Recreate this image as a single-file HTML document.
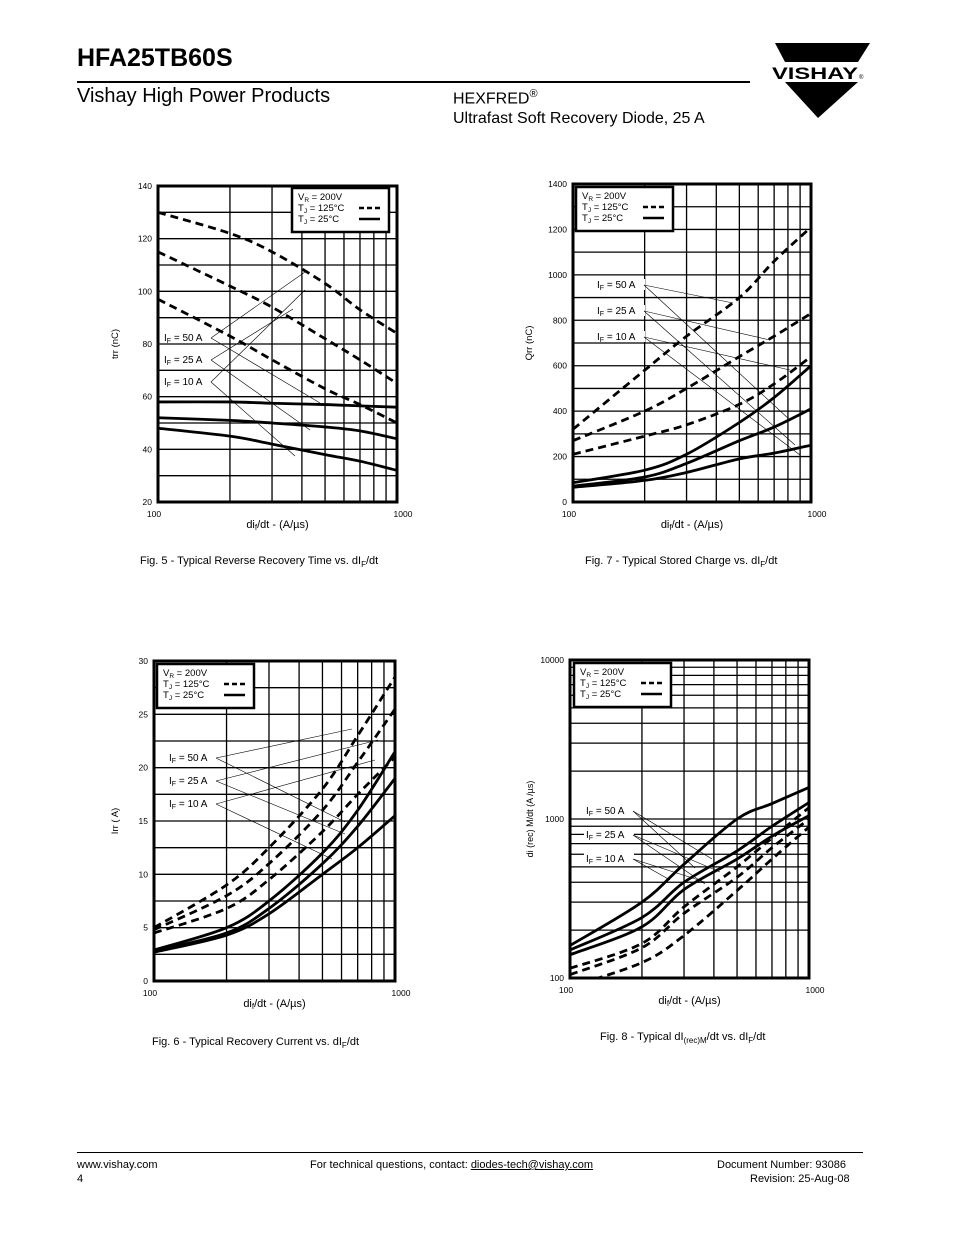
<!DOCTYPE html>
<html><head><meta charset="utf-8">
<style>
body{margin:0;background:#fff;font-family:"Liberation Sans",Arial,sans-serif;}
#page{position:relative;width:954px;height:1235px;overflow:hidden;background:#fff;}
.t{position:absolute;white-space:nowrap;color:#000;}
svg text{font-family:"Liberation Sans",Arial,sans-serif;}
</style></head>
<body>
<div id="page">
<div class="t" style="left:77px;top:44px;font-size:25px;font-weight:bold;">HFA25TB60S</div>
<div style="position:absolute;left:77px;top:81px;width:673px;height:2px;background:#000;"></div>
<div class="t" style="left:77px;top:85px;font-size:20px;">Vishay High Power Products</div>
<div class="t" style="left:453px;top:88px;font-size:16px;">HEXFRED<sup style="font-size:11px">®</sup></div>
<div class="t" style="left:453px;top:110px;font-size:16px;">Ultrafast Soft Recovery Diode, 25 A</div>
<svg style="position:absolute;left:760px;top:38px" width="115" height="85">
<polygon points="15,5 110,5 98,24 25,24" fill="#000"/>
<text x="12" y="41" font-size="17" font-weight="bold" textLength="86" lengthAdjust="spacingAndGlyphs">VISHAY</text>
<text x="99" y="41" font-size="6">®</text>
<polygon points="25,44 98,44 58,80" fill="#000"/>
</svg>

<svg id="charts" style="position:absolute;left:0;top:0" width="954" height="1235"></svg>

<div class="t" style="left:140px;top:555px;font-size:11px;">Fig. 5 - Typical Reverse Recovery Time vs. dI<sub style="font-size:8px">F</sub>/dt</div>
<div class="t" style="left:585px;top:555px;font-size:11px;">Fig. 7 - Typical Stored Charge vs. dI<sub style="font-size:8px">F</sub>/dt</div>
<div class="t" style="left:152px;top:1036px;font-size:11px;">Fig. 6 - Typical Recovery Current vs. dI<sub style="font-size:8px">F</sub>/dt</div>
<div class="t" style="left:600px;top:1031px;font-size:11px;">Fig. 8 - Typical dI<sub style="font-size:8px">(rec)M</sub>/dt vs. dI<sub style="font-size:8px">F</sub>/dt</div>

<div style="position:absolute;left:77px;top:1152px;width:786px;height:1px;background:#000;"></div>
<div class="t" style="left:77px;top:1159px;font-size:11px;">www.vishay.com</div>
<div class="t" style="left:77px;top:1173px;font-size:11px;">4</div>
<div class="t" style="left:310px;top:1159px;font-size:11px;">For technical questions, contact: <u>diodes-tech@vishay.com</u></div>
<div class="t" style="left:717px;top:1159px;font-size:11px;">Document Number: 93086</div>
<div class="t" style="left:750px;top:1173px;font-size:11px;">Revision: 25-Aug-08</div>
</div>

<script>
const xs = [100,200,300,500,700,1000];
// Fig 5 trr (nC) 
const f5hot50=[130,122,115,103,93,84];
const f5hot25=[115,102,94,82,74,65];
const f5hot10=[97,83,74,63,57,50];
const f5cold50=[58,58,57.5,57,56.5,56];
const f5cold25=[52,51,50,48.5,47,44];
const f5cold10=[48,45,42,38,35.5,32];
const f5yTicks=[20,40,60,80,100,120,140];
// Fig 7 Qrr (nC)
const f7hot50=[320,580,730,900,1060,1210];
const f7hot25=[270,400,500,640,730,830];
const f7hot10=[210,290,340,430,520,640];
const f7cold50=[85,140,210,350,460,600];
const f7cold25=[70,110,170,270,330,410];
const f7cold10=[65,95,130,190,215,250];
const f7yTicks=[0,200,400,600,800,1000,1200,1400];
// Fig 6 Irr (A)
const f6hot50=[5,9,12.5,18,23,28.5];
const f6hot25=[4.8,8,11,16,20.5,25.5];
const f6hot10=[4.5,6.8,9.5,14,17.5,21];
const f6cold50=[2.9,5,7.5,12,16,21.5];
const f6cold25=[2.8,4.5,6.8,11,14.5,19];
const f6cold10=[2.7,4.3,6.3,10,12.5,15.5];
const f6yTicks=[0,5,10,15,20,25,30];
// Fig 8 dI(rec)M/dt (A/us)
const f8hot50=[115,165,280,500,760,1180];
const f8hot25=[105,155,255,430,660,1000];
const f8hot10=[88,125,185,355,560,890];
const f8cold50=[160,300,520,1000,1250,1580];
const f8cold25=[150,240,400,630,900,1270];
const f8cold10=[140,210,360,560,780,1050];
const f8yTicks=[100,1000,10000];

const NS="http://www.w3.org/2000/svg";
const svg=document.getElementById('charts');
function mk(tag,attrs,parent){const e=document.createElementNS(NS,tag);for(const k in attrs)e.setAttribute(k,attrs[k]);(parent||svg).appendChild(e);return e;}

function chart(o){
  const g=mk('g',{});
  
  
  const {x0,x1,y0,y1}=o;
  const xS=v=>x0+(Math.log10(v)-2)*(x1-x0);
  const yS=o.logY?(v=>y1-(Math.log10(v)-Math.log10(o.ymin))/(Math.log10(o.ymax)-Math.log10(o.ymin))*(y1-y0))
                 :(v=>y1-(v-o.ymin)/(o.ymax-o.ymin)*(y1-y0));
  // grid
  for(let v=200;v<1000;v+=100){const l=mk('line',{x1:xS(v),x2:xS(v),y1:y0,y2:y1,stroke:'#000','stroke-width':1.3},g);}
  if(o.logY){for(let d=o.ymin;d<o.ymax;d*=10)for(let m=1;m<10;m++){const v=d*m;if(v<=o.ymin)continue;const l=mk('line',{x1:x0,x2:x1,y1:yS(v),y2:yS(v),stroke:'#000','stroke-width':1.3},g);}}
  else{for(let v=o.ymin+o.gstep;v<o.ymax-1e-9;v+=o.gstep){const l=mk('line',{x1:x0,x2:x1,y1:yS(v),y2:yS(v),stroke:'#000','stroke-width':1.3},g);}}
  // ticks labels
  o.yTicks.forEach(v=>{const t=mk('text',{x:x0-6,y:yS(v)+3,'font-size':8.5,'text-anchor':'end'},g);t.textContent=v;});
  [[100,'start',-4],[1000,'end',6]].forEach(([v,a,dx])=>{const t=mk('text',{x:xS(v)+dx,y:y1+15,'font-size':8.5,'text-anchor':'middle'},g);t.textContent=v;});
  const xl=mk('text',{x:(x0+x1)/2,y:y1+26,'font-size':11,'text-anchor':'middle'},g);
  xl.innerHTML='di<tspan font-size="8" dy="2">f</tspan><tspan dy="-2">/dt - (A/µs)</tspan>';
  
  const yl=mk('text',{x:0,y:0,'font-size':o.ylFont||9.5,'text-anchor':'middle',transform:`translate(${o.ylx},${(y0+y1)/2}) rotate(-90)`},g);
  yl.textContent=o.ytitle;
  // clip
  const cid='c'+o.name;const cp=mk('clipPath',{id:cid},g);mk('rect',{x:x0,y:y0,width:x1-x0,height:y1-y0},cp);
  // series
  o.series.forEach(s=>{
    const p=xs.map((x,i)=>[xS(x),yS(s.v[i])]);
    let d='M'+p[0][0]+','+p[0][1];
    for(let i=0;i<p.length-1;i++){const a=p[i-1]||p[i],b=p[i],c=p[i+1],e=p[i+2]||c;
      d+=` C${b[0]+(c[0]-a[0])/6},${b[1]+(c[1]-a[1])/6} ${c[0]-(e[0]-b[0])/6},${c[1]-(e[1]-b[1])/6} ${c[0]},${c[1]}`;}
    const pa=mk('path',{d,fill:'none',stroke:'#000','stroke-width':s.hot?2.8:2.8,'stroke-dasharray':s.hot?'8,5':'none','clip-path':`url(#${cid})`},g);
    
  });
  // frame
  const fr=mk('rect',{x:x0,y:y0,width:x1-x0,height:y1-y0,fill:'none',stroke:'#000','stroke-width':3},g);
  
  // legend
  const L=o.leg;const lg=mk('g',{},g);
  mk('rect',{x:L[0],y:L[1],width:97,height:44,fill:'#fff',stroke:'#000','stroke-width':2.5},lg);
  const lt=[['V','R',' = 200V'],['T','J',' = 125°C'],['T','J',' = 25°C']];
  lt.forEach((r,i)=>{const t=mk('text',{x:L[0]+6,y:L[1]+12+i*11,'font-size':9.5},lg);t.innerHTML=`${r[0]}<tspan font-size="6.5" dy="2">${r[1]}</tspan><tspan dy="-2">${r[2]}</tspan>`;});
  mk('line',{x1:L[0]+67,x2:L[0]+88,y1:L[1]+20,y2:L[1]+20,stroke:'#000','stroke-width':2.5,'stroke-dasharray':'5,3'},lg);
  mk('line',{x1:L[0]+67,x2:L[0]+88,y1:L[1]+31,y2:L[1]+31,stroke:'#000','stroke-width':2.5},lg);
  // IF labels
  ['50','25','10'].forEach((n,i)=>{const lx=o.lab[0],ly=o.lab[1]+i*o.lab[2];
    const bg=mk('rect',{x:lx-2,y:ly-9,width:50,height:11,fill:'#fff'},g);
    const t=mk('text',{x:lx,y:ly,'font-size':10},g);t.innerHTML=`I<tspan font-size="7" dy="2">F</tspan><tspan dy="-2"> = ${n} A</tspan>`;
    
    (o.leaders[i]||[]).forEach(q=>mk('line',{x1:lx+47,y1:ly-3,x2:q[0],y2:q[1],stroke:'#000','stroke-width':0.6},g));
  });
}

chart({name:'fig5-trr-chart',x0:158,x1:397,y0:186,y1:502,ymin:20,ymax:140,gstep:10,yTicks:f5yTicks,ylx:118,ytitle:'trr    (nC)',
  leg:[292,188],lab:[164,341,22],
  leaders:[[[305,272],[320,403]],[[293,309],[310,430]],[[305,290],[295,456]]],
  series:[{n:'trr-125c-50a',hot:1,v:f5hot50},{n:'trr-125c-25a',hot:1,v:f5hot25},{n:'trr-125c-10a',hot:1,v:f5hot10},
          {n:'trr-25c-50a',v:f5cold50},{n:'trr-25c-25a',v:f5cold25},{n:'trr-25c-10a',v:f5cold10}]});
chart({name:'fig7-qrr-chart',x0:573,x1:811,y0:184,y1:502,ymin:0,ymax:1400,gstep:100,yTicks:f7yTicks,ylx:532,ytitle:'Qrr   (nC)',
  leg:[576,187],lab:[597,288,26],
  leaders:[[[733,303],[790,420]],[[770,340],[795,445]],[[790,370],[800,455]]],
  series:[{n:'qrr-125c-50a',hot:1,v:f7hot50},{n:'qrr-125c-25a',hot:1,v:f7hot25},{n:'qrr-125c-10a',hot:1,v:f7hot10},
          {n:'qrr-25c-50a',v:f7cold50},{n:'qrr-25c-25a',v:f7cold25},{n:'qrr-25c-10a',v:f7cold10}]});
chart({name:'fig6-irr-chart',x0:154,x1:395,y0:661,y1:981,ymin:0,ymax:30,gstep:2.5,yTicks:f6yTicks,ylx:118,ytitle:'Irr   ( A)',
  leg:[157,664],lab:[169,761,23],
  leaders:[[[352,729],[345,822]],[[378,740],[345,834]],[[375,760],[332,859]]],
  series:[{n:'irr-125c-50a',hot:1,v:f6hot50},{n:'irr-125c-25a',hot:1,v:f6hot25},{n:'irr-125c-10a',hot:1,v:f6hot10},
          {n:'irr-25c-50a',v:f6cold50},{n:'irr-25c-25a',v:f6cold25},{n:'irr-25c-10a',v:f6cold10}]});
chart({name:'fig8-direc-chart',x0:570,x1:809,y0:660,y1:978,logY:1,ymin:100,ymax:10000,yTicks:f8yTicks,ylx:533,ylFont:9,ytitle:'di (rec) M/dt   (A /µs)',
  leg:[574,663],lab:[586,814,24],
  leaders:[[[712,859],[695,868]],[[720,872],[705,884]],[[670,880],[705,882]]],
  series:[{n:'direc-125c-50a',hot:1,v:f8hot50},{n:'direc-125c-25a',hot:1,v:f8hot25},{n:'direc-125c-10a',hot:1,v:f8hot10},
          {n:'direc-25c-50a',v:f8cold50},{n:'direc-25c-25a',v:f8cold25},{n:'direc-25c-10a',v:f8cold10}]});
</script>
</body></html>
